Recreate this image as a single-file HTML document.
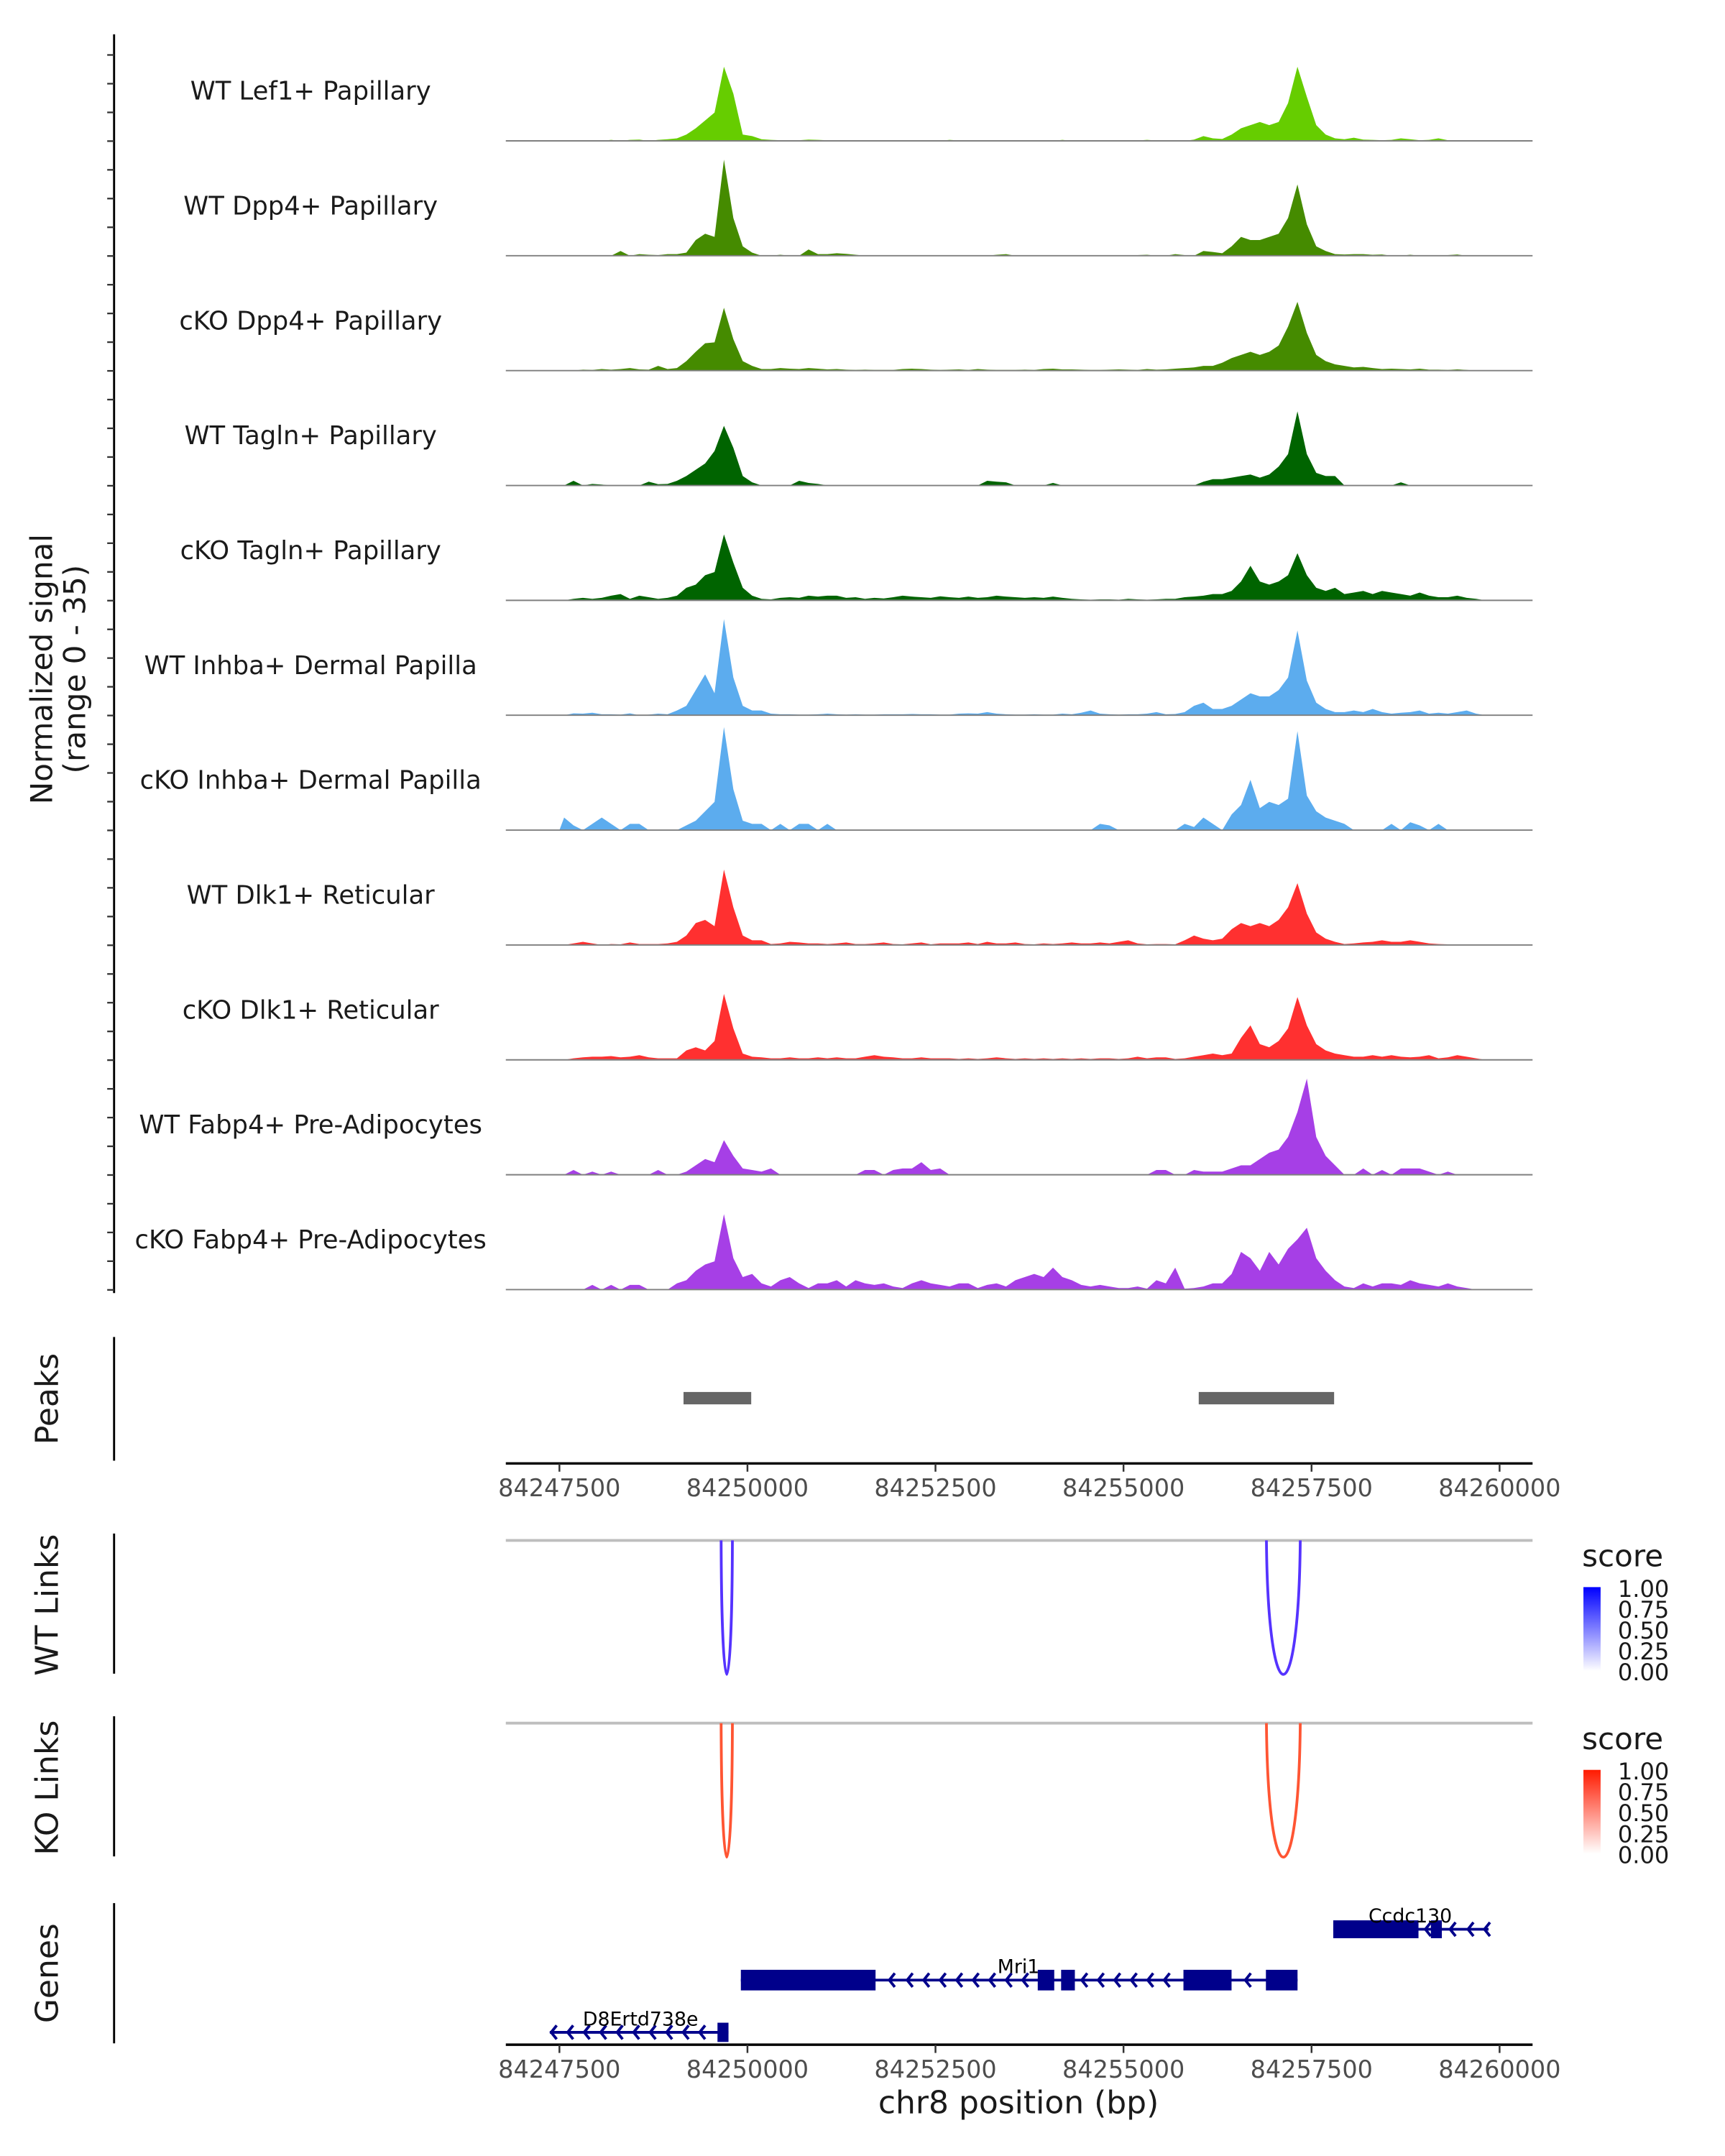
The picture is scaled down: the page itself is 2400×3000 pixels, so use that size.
<!DOCTYPE html>
<html><head><meta charset="utf-8"><style>
html,body{margin:0;padding:0;background:#fff}
svg{display:block}
text{font-family:"DejaVu Sans","Liberation Sans",sans-serif}
</style></head><body>
<svg id="chart" width="2400" height="3000" viewBox="0 0 1255 1569" preserveAspectRatio="none" xmlns="http://www.w3.org/2000/svg">
<g id="tracks"></g>
<g id="lower"></g>
</svg>
<script>
// ---- data ----
const trackNames = ["WT Lef1+ Papillary","WT Dpp4+ Papillary","cKO Dpp4+ Papillary","WT Tagln+ Papillary","cKO Tagln+ Papillary","WT Inhba+ Dermal Papilla","cKO Inhba+ Dermal Papilla","WT Dlk1+ Reticular","cKO Dlk1+ Reticular","WT Fabp4+ Pre-Adipocytes","cKO Fabp4+ Pre-Adipocytes"];
const trackColors = ["#66CD00","#458B00","#458B00","#006400","#006400","#5CACEE","#5CACEE","#FF3030","#FF3030","#A63FE6","#A63FE6"];
const binStart = 84247500;
const binSize = 125;
const sigLef1WT = [0,0,0,0,0,0.3,0,0.3,0.4,0, 0.3,0.5,0.8,2,4,6.5,9,23.6,15,2, 1.5,0.5,0.3,0.2,0.2,0.2,0.4,0.3,0.2,0.1, 0.1,0.1,0.1,0.1,0.2,0.1,0,0,0.1,0.1, 0,0.3,0.1,0.2,0,0,0.1,0,0,0, 0,0.1,0,0.3,0,0,0.2,0,0,0, 0,0.1,0.3,0.1,0.2,0.1,0,0.4,1.5,0.8, 0.6,2,4,5,6,5,6,12,23.6,14, 5,2,0.8,0.5,1,0.4,0.3,0.2,0.3,0.8, 0.5,0.2,0.3,0.8,0.2,0.2,0.2,0,0];
const sigDpp4WT = [0,0,0,0,0,0,1.5,0,0.5,0.3, 0.2,0.5,0.5,1,5,7,6,30.6,12,3, 1,0,0,0.3,0,0,2,0.5,0.5,0.8, 0.6,0.3,0,0,0,0,0,0,0,0, 0,0,0,0,0,0,0.3,0.5,0,0, 0,0,0,0,0,0,0,0,0,0, 0,0.2,0.3,0,0,0.5,0.2,0,1.5,1.2, 0.8,3,6,5,5,6,7,12,22.7,10, 3,1.5,0.5,0.4,0.5,0.5,0.3,0.4,0,0, 0.3,0,0,0,0.2,0.4,0,0,0];
const sigDpp4KO = [0,0,0.3,0.2,0.5,0.3,0.5,0.8,0.4,0.3, 1.5,0.5,0.8,3,6,8.7,9,20,10,3, 1.5,0.5,0.5,0.8,0.6,0.5,0.8,0.6,0.4,0.5, 0.3,0.2,0.3,0.2,0.2,0.2,0.5,0.6,0.5,0.3, 0.2,0.3,0.4,0.2,0.5,0.3,0.2,0.2,0.2,0.3, 0.2,0.5,0.6,0.4,0.4,0.3,0.2,0.2,0.3,0.4, 0.3,0.2,0.5,0.3,0.4,0.6,0.8,1,1.5,1.5, 2.5,4,5,6,5,6,8,14,21.9,12, 5,3,2,1.5,1,1.2,0.8,0.5,0.6,0.5, 0.4,0.6,0.3,0.3,0.2,0.4,0.2,0,0];
const sigTaglnWT = [0,1.5,0,0.5,0.3,0,0,0,0,1.2, 0.4,0.5,1.5,3,5,7,11,19,12,3, 1,0,0,0,0,1.5,0.8,0.5,0,0, 0,0,0,0,0,0,0,0,0,0, 0,0,0,0,0,1.5,1.2,1,0,0, 0,0,0.8,0,0,0,0,0,0,0, 0,0,0,0,0,0,0,0,1.2,2, 2,2.5,3,3.5,2.5,3.5,6,10,23.6,10, 4,3,3,0,0,0,0,0,0,1, 0,0,0,0,0,0,0,0,0];
const sigTaglnKO = [0,0.5,0.8,0.5,0.8,1.5,2,0.5,1.5,1, 0.5,0.8,1.5,4,5,8,9,21,12,4, 1.5,0.5,0.3,0.8,1,0.8,1.5,1.2,1.5,1.5, 0.8,1,0.5,0.8,0.6,1,1.5,1.2,1,0.8, 1.3,1,0.8,1.2,0.8,1,1.5,1.2,1,0.8, 1,0.8,1.2,0.8,0.5,0.3,0.2,0.3,0.3,0.2, 0.5,0.3,0.2,0.3,0.5,0.5,1,1.2,1.5,2, 2,3,6,11,6,5,6,8,15,8, 4,3,4,2,2.5,3,2,3,2.5,2, 1.5,2.5,1.5,1,1,1.5,0.8,0.5,0];
const sigInhbaWT = [0,0.6,0.5,0.8,0.3,0.3,0.2,0.6,0,0.2, 0.5,0.3,1.5,3,8,13,7,30.6,12,3, 1.5,1.5,0.5,0.3,0.3,0.2,0.2,0.3,0.5,0.3, 0.2,0.3,0.2,0.2,0.3,0.3,0.3,0.4,0.3,0.3, 0.2,0.2,0.5,0.6,0.5,1,0.5,0.3,0.2,0.2, 0.3,0.2,0.2,0.5,0.3,0.8,1.5,0.5,0.3,0.2, 0.3,0.3,0.5,1,0.3,0.4,1,3,4,2, 2,3,5,7,6,6,8,12,27,11, 4,2,1,1,1.5,1,2,1,0.5,0.8, 1,1.5,0.5,0.8,0.5,1,1.5,0.5,0];
const sigInhbaKO = [4,1.5,0,2,4,2,0,2,2,0, 0,0,0,1.5,3,6,9,32.8,13,3, 2,2,0,2,0,2,2,0,2,0, 0,0,0,0,0,0,0,0,0,0, 0,0,0,0,0,0,0,0,0,0, 0,0,0,0,0,0,0,2,1.5,0, 0,0,0,0,0,0,2,1,4,2, 0,5,8,16,7,9,8,10,31.5,11, 6,4,3,2,0,0,0,0,2,0, 2.5,1.5,0,2,0,0,0,0,0];
const sigDlk1WT = [0,0.5,1,0.5,0,0.3,0.2,0.8,0.3,0.3, 0.3,0.5,1,3,7,8,6,24,12,3, 1.5,1.5,0.3,0.5,1,0.8,0.5,0.5,0.3,0.5, 0.8,0.3,0.3,0.5,0.8,0.3,0.2,0.5,0.8,0.2, 0.5,0.5,0.5,0.8,0.3,1,0.5,0.5,0.8,0.3, 0.2,0.5,0.3,0.5,0.8,0.5,0.5,0.8,0.5,1, 1.5,0.5,0.2,0.3,0.3,0.2,1.5,3,2,1.5, 2,5,7,6,7,6,8,12,19.7,10, 4,2,1,0.3,0.5,0.8,1,1.5,1,1, 1.5,1,0.5,0.3,0.2,0,0,0,0];
const sigDlk1KO = [0,0.5,0.8,1,1,1.2,0.8,1,1.5,0.8, 0.5,0.5,0.5,3,4,3,6,21,10,2, 1,0.8,0.5,0.5,0.8,0.5,0.5,0.8,0.5,0.8, 0.5,0.5,1,1.5,1,0.8,0.5,0.5,0.8,0.5, 0.5,0.5,0.3,0.5,0.3,0.5,0.8,0.5,0.3,0.5, 0.3,0.5,0.3,0.5,0.3,0.5,0.3,0.5,0.5,0.3, 0.5,1,0.5,0.8,0.8,0.3,0.5,1,1.5,2, 1.5,2,7,11,5,4,6,10,20,11, 5,3,2,1.5,1,1,1.5,1,1.5,1, 0.8,1,1.5,0.5,0.8,1.5,1,0.5,0];
const sigFabp4WT = [0,1.5,0,1,0,1,0,0,0,0, 1.5,0,0,1,3,5,4,11,6,2, 1.5,1,2,0,0,0,0,0,0,0, 0,0,1.5,1.5,0,1.5,2,2,4,1.5, 2,0,0,0,0,0,0,0,0,0, 0,0,0,0,0,0,0,0,0,0, 0,0,0,1.5,1.5,0,0,1.5,1,1, 1,2,3,3,5,7,8,12,20,30.6, 12,6,3,0,0,2,0,1.5,0,2, 2,2,1,0,1,0,0,0,0];
const sigFabp4KO = [0,0,0,1.5,0,1.5,0,1.5,1.5,0, 0,0,2,3,6,8,9,24,10,4, 5,2,1,3,4,2,0.5,2,2,3, 1,3,2,1.5,2,1,0.5,2,3,2, 1.5,1,2,2,0.5,1.5,2,1,3,4, 5,4,7,4,3,1.5,1,1.5,1,0.5, 0.5,1,0.3,3,2,7,0.3,0.5,1,2, 2,5,12,10,6,12,8,13,16,19.7, 10,6,3,1,0.5,2,1,2,2,1.5, 3,2,1.5,1,2,1,0.5,0,0];
const signals = [sigLef1WT,sigDpp4WT,sigDpp4KO,sigTaglnWT,sigTaglnKO,sigInhbaWT,sigInhbaKO,sigDlk1WT,sigDlk1KO,sigFabp4WT,sigFabp4KO];
const xTicks = [84247500,84250000,84252500,84255000,84257500,84260000];
const peakStarts = [84249150, 84256000];
const peakEnds = [84250050, 84257800];
const linkStarts = [84249650, 84256900];
const linkEnds = [84249800, 84257350];
const legendTicks = ["1.00","0.75","0.50","0.25","0.00"];

// ---- scales ----
const plotL = 368, plotR = 1115;
function xs(bp){ return 407 + (bp - 84247500) * (684/12500); }
const yMax = 35, trackH = 83.6, firstBase = 102.5;
function ys(v, base){ return base - v * (80 / yMax); }
const NS = "http://www.w3.org/2000/svg";
function mk(tag, attrs, parent){ const e=document.createElementNS(NS,tag); for(const k in attrs) e.setAttribute(k,attrs[k]); parent.appendChild(e); return e; }

const T = document.getElementById('tracks');
const L = document.getElementById('lower');

let ax = mk('line',{x1:83,y1:25,x2:83,y2:941,stroke:'#000','stroke-width':1.5},T);


for(let y=40; y<=940; y+=20.9){
  let t = mk('line',{x1:78,y1:y,x2:83,y2:y,stroke:'#333','stroke-width':1.2},T);
  
  
}
let yt = mk('text',{x:0,y:0,'font-size':22,'text-anchor':'middle',fill:'#1a1a1a',transform:'translate(42,487) rotate(-90)'},T);


let ts1 = mk('tspan',{x:0,dy:-4},yt); ts1.textContent='Normalized signal';
let ts2 = mk('tspan',{x:0,dy:24},yt); ts2.textContent='(range 0 - 35)';

signals.forEach((sig,ti)=>{
  const base = firstBase + ti*trackH;
  const g = mk('g',{},T);
  
  
  let d = 'M'+xs(binStart).toFixed(2)+','+base;
  sig.forEach((v,i)=>{
    const xc = xs(binStart+(i+0.5)*binSize);
    d += ' L'+xc.toFixed(2)+','+ys(v,base).toFixed(2);
  });
  d += ' L'+xs(binStart+sig.length*binSize).toFixed(2)+','+base+' Z';
  const a = mk('path',{d:d,fill:trackColors[ti],stroke:'none'},g);
  
  
  const bl = mk('line',{x1:plotL,y1:base,x2:plotR,y2:base,stroke:'#7f7f7f','stroke-width':1},g);
  
  
  const lb = mk('text',{x:226,y:base-30,'font-size':18.5,'text-anchor':'middle',fill:'#1a1a1a'},g);
  
  
  lb.textContent = trackNames[ti];
});

function vaxis(y1,y2,title,cy){
  const l = mk('line',{x1:83,y1:y1,x2:83,y2:y2,stroke:'#000','stroke-width':1.5},L);
  
  
  const t = mk('text',{x:0,y:0,'font-size':23,'text-anchor':'middle',fill:'#1a1a1a',transform:'translate(42,'+cy+') rotate(-90)'},L);
  
  
  t.textContent = title;
}
function xaxis(y){
  const l = mk('line',{x1:plotL,y1:y,x2:plotR,y2:y,stroke:'#000','stroke-width':1.8},L);
  
  
  xTicks.forEach(v=>{
    const t = mk('line',{x1:xs(v),y1:y,x2:xs(v),y2:y+6,stroke:'#333','stroke-width':1.3},L);
    
    
    const tx = mk('text',{x:xs(v),y:y+24,'font-size':17.5,'text-anchor':'middle',fill:'#4d4d4d'},L);
    
    
    tx.textContent = v;
  });
}
vaxis(973,1063,'Peaks',1018);
peakStarts.forEach((s,i)=>{
  const r = mk('rect',{x:xs(s),y:1013,width:xs(peakEnds[i])-xs(s),height:9,fill:'#666'},L);
  
  
});
xaxis(1065);

function linksPanel(top,color,title,gradId,c1){
  vaxis(top-5,top+97,title,top+47);
  const gl = mk('line',{x1:plotL,y1:top,x2:plotR,y2:top,stroke:'#bebebe','stroke-width':2},L);
  
  
  linkStarts.forEach((s,i)=>{
    const x1 = xs(s), x2 = xs(linkEnds[i]);
    const p = mk('path',{d:'M'+x1+','+top+' C'+(x1+(x2-x1)*0.05)+','+(top+130)+' '+(x2-(x2-x1)*0.05)+','+(top+130)+' '+x2+','+top,fill:'none',stroke:color,'stroke-width':2},L);
    
    
  });
  const defs = mk('defs',{},L);
  const lg = mk('linearGradient',{id:gradId,x1:0,y1:1,x2:0,y2:0},defs);
  mk('stop',{offset:0,'stop-color':'#ffffff'},lg);
  mk('stop',{offset:1,'stop-color':c1},lg);
  const st = mk('text',{x:1151,y:top+19,'font-size':22,fill:'#1a1a1a'},L);
  
  
  st.textContent='score';
  const cb = mk('rect',{x:1152,y:top+34,width:12.5,height:61,fill:'url(#'+gradId+')'},L);
  
  
  legendTicks.forEach((lab,i)=>{
    const tx = mk('text',{x:1177,y:top+41+i*15.2,'font-size':16.8,fill:'#1a1a1a'},L);
    
    
    tx.textContent = lab;
  });
}
linksPanel(1121,'#5533FF','WT Links','gwt','#0000ff');
linksPanel(1254,'#FF5533','KO Links','gko','#ff1a00');

vaxis(1385,1487,'Genes',1436);
const navy = '#00008B';
function gene(name,y,lx1,lx2,boxes,labelX,arrows){
  const g = mk('g',{},L);
  
  
  mk('line',{x1:lx1,y1:y,x2:lx2,y2:y,stroke:navy,'stroke-width':2},g);
  boxes.forEach(b=>mk('rect',{x:b[0],y:y-b[2]/2,width:b[1]-b[0],height:b[2],fill:navy},g));
  arrows.forEach(ax=>mk('polyline',{points:(ax+4)+','+(y-5)+' '+ax+','+y+' '+(ax+4)+','+(y+5),fill:'none',stroke:navy,'stroke-width':2},g));
  const t = mk('text',{x:labelX,y:y-5,'font-size':14,'text-anchor':'middle',fill:'#000'},g);
  t.textContent = name;
}
gene('Ccdc130',1404,970,1083,[[970,1032,13],[1041,1049,13]],1026,[1037,1055,1068,1080]);
gene('Mri1',1441,539,944,[[539,637,15],[755,767,15],[772,782,15],[861,896,15],[921,944,15]],741,[647,660,672,684,696,708,720,732,744,787,799,811,823,835,847,906]);
gene('D8Ertd738e',1479,400,530,[[522,530,14]],466,[401,413,425,437,449,461,473,485,497,509]);
xaxis(1488);
const xt = mk('text',{x:741,y:1538,'font-size':23,'text-anchor':'middle',fill:'#1a1a1a'},L);


xt.textContent = 'chr8 position (bp)';
</script>
</body></html>
